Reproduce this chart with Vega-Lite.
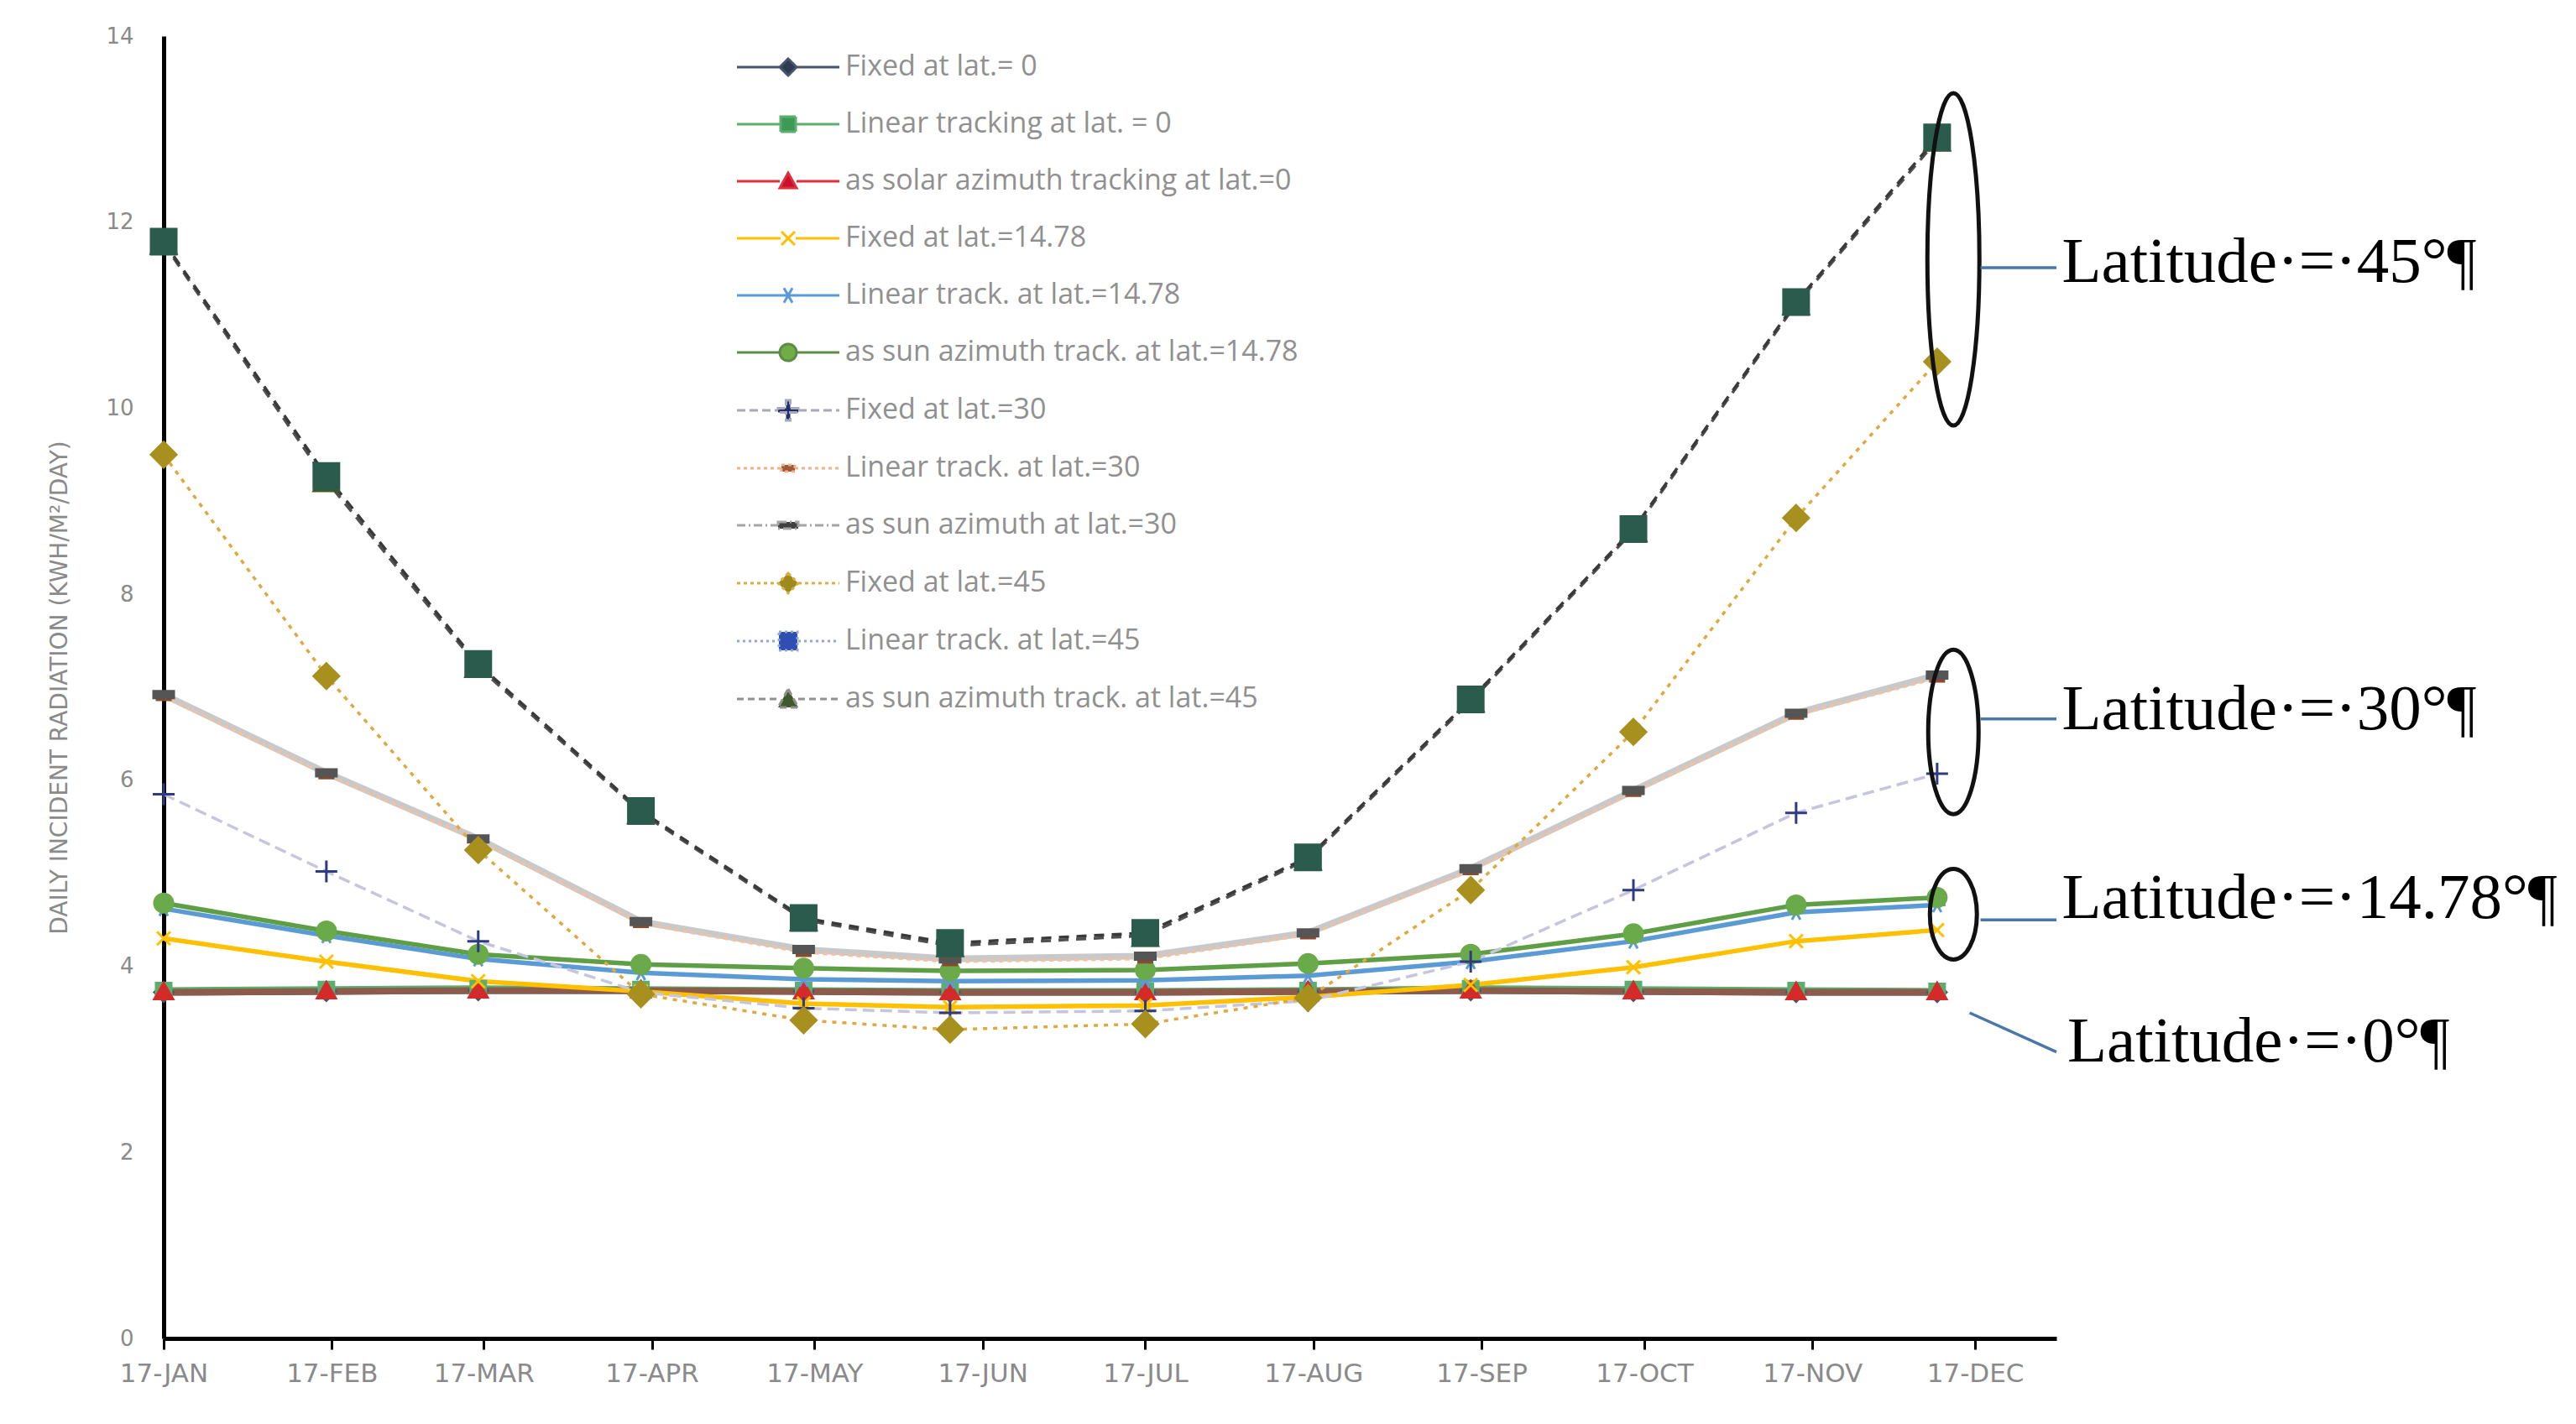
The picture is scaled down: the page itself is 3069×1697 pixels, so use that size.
{
  "$schema": "https://vega.github.io/schema/vega-lite/v6.json",
  "width": 2255,
  "height": 1552,
  "autosize": {"type": "none"},
  "padding": {"left": 195, "top": 43, "right": 619, "bottom": 102},
  "background": "white",
  "datasets": {
    "series": [
      {"series": "Fixed at lat.= 0", "date": "2017-01-17", "value": 3.72},
      {"series": "Fixed at lat.= 0", "date": "2017-02-16", "value": 3.73},
      {"series": "Fixed at lat.= 0", "date": "2017-03-16", "value": 3.74},
      {"series": "Fixed at lat.= 0", "date": "2017-04-15", "value": 3.74},
      {"series": "Fixed at lat.= 0", "date": "2017-05-15", "value": 3.73},
      {"series": "Fixed at lat.= 0", "date": "2017-06-11", "value": 3.72},
      {"series": "Fixed at lat.= 0", "date": "2017-07-17", "value": 3.72},
      {"series": "Fixed at lat.= 0", "date": "2017-08-16", "value": 3.73},
      {"series": "Fixed at lat.= 0", "date": "2017-09-15", "value": 3.74},
      {"series": "Fixed at lat.= 0", "date": "2017-10-15", "value": 3.73},
      {"series": "Fixed at lat.= 0", "date": "2017-11-14", "value": 3.72},
      {"series": "Fixed at lat.= 0", "date": "2017-12-10", "value": 3.72},
      {"series": "Linear tracking at lat. = 0", "date": "2017-01-17", "value": 3.74},
      {"series": "Linear tracking at lat. = 0", "date": "2017-02-16", "value": 3.75},
      {"series": "Linear tracking at lat. = 0", "date": "2017-03-16", "value": 3.76},
      {"series": "Linear tracking at lat. = 0", "date": "2017-04-15", "value": 3.75},
      {"series": "Linear tracking at lat. = 0", "date": "2017-05-15", "value": 3.74},
      {"series": "Linear tracking at lat. = 0", "date": "2017-06-11", "value": 3.73},
      {"series": "Linear tracking at lat. = 0", "date": "2017-07-17", "value": 3.73},
      {"series": "Linear tracking at lat. = 0", "date": "2017-08-16", "value": 3.74},
      {"series": "Linear tracking at lat. = 0", "date": "2017-09-15", "value": 3.76},
      {"series": "Linear tracking at lat. = 0", "date": "2017-10-15", "value": 3.75},
      {"series": "Linear tracking at lat. = 0", "date": "2017-11-14", "value": 3.74},
      {"series": "Linear tracking at lat. = 0", "date": "2017-12-10", "value": 3.73},
      {"series": "as solar azimuth tracking at lat.=0", "date": "2017-01-17", "value": 3.72},
      {"series": "as solar azimuth tracking at lat.=0", "date": "2017-02-16", "value": 3.73},
      {"series": "as solar azimuth tracking at lat.=0", "date": "2017-03-16", "value": 3.74},
      {"series": "as solar azimuth tracking at lat.=0", "date": "2017-04-15", "value": 3.74},
      {"series": "as solar azimuth tracking at lat.=0", "date": "2017-05-15", "value": 3.73},
      {"series": "as solar azimuth tracking at lat.=0", "date": "2017-06-11", "value": 3.72},
      {"series": "as solar azimuth tracking at lat.=0", "date": "2017-07-17", "value": 3.72},
      {"series": "as solar azimuth tracking at lat.=0", "date": "2017-08-16", "value": 3.73},
      {"series": "as solar azimuth tracking at lat.=0", "date": "2017-09-15", "value": 3.74},
      {"series": "as solar azimuth tracking at lat.=0", "date": "2017-10-15", "value": 3.73},
      {"series": "as solar azimuth tracking at lat.=0", "date": "2017-11-14", "value": 3.72},
      {"series": "as solar azimuth tracking at lat.=0", "date": "2017-12-10", "value": 3.72},
      {"series": "Fixed at lat.=14.78", "date": "2017-01-17", "value": 4.30},
      {"series": "Fixed at lat.=14.78", "date": "2017-02-16", "value": 4.05},
      {"series": "Fixed at lat.=14.78", "date": "2017-03-16", "value": 3.84},
      {"series": "Fixed at lat.=14.78", "date": "2017-04-15", "value": 3.73},
      {"series": "Fixed at lat.=14.78", "date": "2017-05-15", "value": 3.60},
      {"series": "Fixed at lat.=14.78", "date": "2017-06-11", "value": 3.56},
      {"series": "Fixed at lat.=14.78", "date": "2017-07-17", "value": 3.58},
      {"series": "Fixed at lat.=14.78", "date": "2017-08-16", "value": 3.67},
      {"series": "Fixed at lat.=14.78", "date": "2017-09-15", "value": 3.80},
      {"series": "Fixed at lat.=14.78", "date": "2017-10-15", "value": 3.99},
      {"series": "Fixed at lat.=14.78", "date": "2017-11-14", "value": 4.27},
      {"series": "Fixed at lat.=14.78", "date": "2017-12-10", "value": 4.39},
      {"series": "Linear track. at lat.=14.78", "date": "2017-01-17", "value": 4.62},
      {"series": "Linear track. at lat.=14.78", "date": "2017-02-16", "value": 4.33},
      {"series": "Linear track. at lat.=14.78", "date": "2017-03-16", "value": 4.08},
      {"series": "Linear track. at lat.=14.78", "date": "2017-04-15", "value": 3.93},
      {"series": "Linear track. at lat.=14.78", "date": "2017-05-15", "value": 3.86},
      {"series": "Linear track. at lat.=14.78", "date": "2017-06-11", "value": 3.84},
      {"series": "Linear track. at lat.=14.78", "date": "2017-07-17", "value": 3.85},
      {"series": "Linear track. at lat.=14.78", "date": "2017-08-16", "value": 3.90},
      {"series": "Linear track. at lat.=14.78", "date": "2017-09-15", "value": 4.05},
      {"series": "Linear track. at lat.=14.78", "date": "2017-10-15", "value": 4.27},
      {"series": "Linear track. at lat.=14.78", "date": "2017-11-14", "value": 4.58},
      {"series": "Linear track. at lat.=14.78", "date": "2017-12-10", "value": 4.66},
      {"series": "as sun azimuth track. at lat.=14.78", "date": "2017-01-17", "value": 4.68},
      {"series": "as sun azimuth track. at lat.=14.78", "date": "2017-02-16", "value": 4.38},
      {"series": "as sun azimuth track. at lat.=14.78", "date": "2017-03-16", "value": 4.13},
      {"series": "as sun azimuth track. at lat.=14.78", "date": "2017-04-15", "value": 4.02},
      {"series": "as sun azimuth track. at lat.=14.78", "date": "2017-05-15", "value": 3.98},
      {"series": "as sun azimuth track. at lat.=14.78", "date": "2017-06-11", "value": 3.95},
      {"series": "as sun azimuth track. at lat.=14.78", "date": "2017-07-17", "value": 3.96},
      {"series": "as sun azimuth track. at lat.=14.78", "date": "2017-08-16", "value": 4.03},
      {"series": "as sun azimuth track. at lat.=14.78", "date": "2017-09-15", "value": 4.13},
      {"series": "as sun azimuth track. at lat.=14.78", "date": "2017-10-15", "value": 4.35},
      {"series": "as sun azimuth track. at lat.=14.78", "date": "2017-11-14", "value": 4.66},
      {"series": "as sun azimuth track. at lat.=14.78", "date": "2017-12-10", "value": 4.74},
      {"series": "Fixed at lat.=30", "date": "2017-01-17", "value": 5.85},
      {"series": "Fixed at lat.=30", "date": "2017-02-16", "value": 5.02},
      {"series": "Fixed at lat.=30", "date": "2017-03-16", "value": 4.27},
      {"series": "Fixed at lat.=30", "date": "2017-04-15", "value": 3.72},
      {"series": "Fixed at lat.=30", "date": "2017-05-15", "value": 3.55},
      {"series": "Fixed at lat.=30", "date": "2017-06-11", "value": 3.50},
      {"series": "Fixed at lat.=30", "date": "2017-07-17", "value": 3.52},
      {"series": "Fixed at lat.=30", "date": "2017-08-16", "value": 3.63},
      {"series": "Fixed at lat.=30", "date": "2017-09-15", "value": 4.05},
      {"series": "Fixed at lat.=30", "date": "2017-10-15", "value": 4.82},
      {"series": "Fixed at lat.=30", "date": "2017-11-14", "value": 5.65},
      {"series": "Fixed at lat.=30", "date": "2017-12-10", "value": 6.07},
      {"series": "Linear track. at lat.=30", "date": "2017-01-17", "value": 6.90},
      {"series": "Linear track. at lat.=30", "date": "2017-02-16", "value": 6.06},
      {"series": "Linear track. at lat.=30", "date": "2017-03-16", "value": 5.35},
      {"series": "Linear track. at lat.=30", "date": "2017-04-15", "value": 4.46},
      {"series": "Linear track. at lat.=30", "date": "2017-05-15", "value": 4.15},
      {"series": "Linear track. at lat.=30", "date": "2017-06-11", "value": 4.05},
      {"series": "Linear track. at lat.=30", "date": "2017-07-17", "value": 4.08},
      {"series": "Linear track. at lat.=30", "date": "2017-08-16", "value": 4.34},
      {"series": "Linear track. at lat.=30", "date": "2017-09-15", "value": 5.03},
      {"series": "Linear track. at lat.=30", "date": "2017-10-15", "value": 5.87},
      {"series": "Linear track. at lat.=30", "date": "2017-11-14", "value": 6.70},
      {"series": "Linear track. at lat.=30", "date": "2017-12-10", "value": 7.10},
      {"series": "as sun azimuth at lat.=30", "date": "2017-01-17", "value": 6.92},
      {"series": "as sun azimuth at lat.=30", "date": "2017-02-16", "value": 6.08},
      {"series": "as sun azimuth at lat.=30", "date": "2017-03-16", "value": 5.37},
      {"series": "as sun azimuth at lat.=30", "date": "2017-04-15", "value": 4.48},
      {"series": "as sun azimuth at lat.=30", "date": "2017-05-15", "value": 4.18},
      {"series": "as sun azimuth at lat.=30", "date": "2017-06-11", "value": 4.08},
      {"series": "as sun azimuth at lat.=30", "date": "2017-07-17", "value": 4.11},
      {"series": "as sun azimuth at lat.=30", "date": "2017-08-16", "value": 4.36},
      {"series": "as sun azimuth at lat.=30", "date": "2017-09-15", "value": 5.05},
      {"series": "as sun azimuth at lat.=30", "date": "2017-10-15", "value": 5.89},
      {"series": "as sun azimuth at lat.=30", "date": "2017-11-14", "value": 6.72},
      {"series": "as sun azimuth at lat.=30", "date": "2017-12-10", "value": 7.13},
      {"series": "Fixed at lat.=45", "date": "2017-01-17", "value": 9.50},
      {"series": "Fixed at lat.=45", "date": "2017-02-16", "value": 7.12},
      {"series": "Fixed at lat.=45", "date": "2017-03-16", "value": 5.25},
      {"series": "Fixed at lat.=45", "date": "2017-04-15", "value": 3.70},
      {"series": "Fixed at lat.=45", "date": "2017-05-15", "value": 3.42},
      {"series": "Fixed at lat.=45", "date": "2017-06-11", "value": 3.32},
      {"series": "Fixed at lat.=45", "date": "2017-07-17", "value": 3.38},
      {"series": "Fixed at lat.=45", "date": "2017-08-16", "value": 3.66},
      {"series": "Fixed at lat.=45", "date": "2017-09-15", "value": 4.82},
      {"series": "Fixed at lat.=45", "date": "2017-10-15", "value": 6.52},
      {"series": "Fixed at lat.=45", "date": "2017-11-14", "value": 8.82},
      {"series": "Fixed at lat.=45", "date": "2017-12-10", "value": 10.50},
      {"series": "as sun azimuth track. at lat.=45", "date": "2017-01-17", "value": 11.77},
      {"series": "as sun azimuth track. at lat.=45", "date": "2017-02-16", "value": 9.22},
      {"series": "as sun azimuth track. at lat.=45", "date": "2017-03-16", "value": 7.22},
      {"series": "as sun azimuth track. at lat.=45", "date": "2017-04-15", "value": 5.65},
      {"series": "as sun azimuth track. at lat.=45", "date": "2017-05-15", "value": 4.50},
      {"series": "as sun azimuth track. at lat.=45", "date": "2017-06-11", "value": 4.22},
      {"series": "as sun azimuth track. at lat.=45", "date": "2017-07-17", "value": 4.33},
      {"series": "as sun azimuth track. at lat.=45", "date": "2017-08-16", "value": 5.15},
      {"series": "as sun azimuth track. at lat.=45", "date": "2017-09-15", "value": 6.85},
      {"series": "as sun azimuth track. at lat.=45", "date": "2017-10-15", "value": 8.68},
      {"series": "as sun azimuth track. at lat.=45", "date": "2017-11-14", "value": 11.12},
      {"series": "as sun azimuth track. at lat.=45", "date": "2017-12-10", "value": 12.88},
      {"series": "Linear track. at lat.=45", "date": "2017-01-17", "value": 11.79},
      {"series": "Linear track. at lat.=45", "date": "2017-02-16", "value": 9.27},
      {"series": "Linear track. at lat.=45", "date": "2017-03-16", "value": 7.25},
      {"series": "Linear track. at lat.=45", "date": "2017-04-15", "value": 5.67},
      {"series": "Linear track. at lat.=45", "date": "2017-05-15", "value": 4.52},
      {"series": "Linear track. at lat.=45", "date": "2017-06-11", "value": 4.25},
      {"series": "Linear track. at lat.=45", "date": "2017-07-17", "value": 4.36},
      {"series": "Linear track. at lat.=45", "date": "2017-08-16", "value": 5.17},
      {"series": "Linear track. at lat.=45", "date": "2017-09-15", "value": 6.87},
      {"series": "Linear track. at lat.=45", "date": "2017-10-15", "value": 8.70},
      {"series": "Linear track. at lat.=45", "date": "2017-11-14", "value": 11.14},
      {"series": "Linear track. at lat.=45", "date": "2017-12-10", "value": 12.91}
    ],
    "ellipses": [
      {"group": "45", "date": "2017-12-13", "value": 11.6},
      {"group": "30", "date": "2017-12-13", "value": 6.52},
      {"group": "14.78", "date": "2017-12-13", "value": 4.56}
    ],
    "connectors": [
      {"date": "2017-12-18", "value": 11.51, "date2": "2018-01-01", "value2": 11.51},
      {"date": "2017-12-18", "value": 6.66, "date2": "2018-01-01", "value2": 6.66},
      {"date": "2017-12-18", "value": 4.5, "date2": "2018-01-01", "value2": 4.5},
      {"date": "2017-12-16", "value": 3.5, "date2": "2018-01-01", "value2": 3.08}
    ],
    "labels": [
      {"label": "Latitude·=·45°¶", "date": "2018-01-02", "value": 11.56},
      {"label": "Latitude·=·30°¶", "date": "2018-01-02", "value": 6.76},
      {"label": "Latitude·=·14.78°¶", "date": "2018-01-02", "value": 4.73},
      {"label": "Latitude·=·0°¶", "date": "2018-01-03", "value": 3.18}
    ]
  },
  "encoding": {
    "x": {
      "field": "date",
      "type": "temporal",
      "scale": {
        "type": "utc",
        "domain": [
          {"year": 2017, "month": 1, "date": 17, "utc": true},
          {"year": 2018, "month": 1, "date": 1, "utc": true}
        ]
      },
      "axis": {
        "title": null,
        "values": [
          {"year": 2017, "month": 1, "date": 17, "utc": true},
          {"year": 2017, "month": 2, "date": 17, "utc": true},
          {"year": 2017, "month": 3, "date": 17, "utc": true},
          {"year": 2017, "month": 4, "date": 17, "utc": true},
          {"year": 2017, "month": 5, "date": 17, "utc": true},
          {"year": 2017, "month": 6, "date": 17, "utc": true},
          {"year": 2017, "month": 7, "date": 17, "utc": true},
          {"year": 2017, "month": 8, "date": 17, "utc": true},
          {"year": 2017, "month": 9, "date": 17, "utc": true},
          {"year": 2017, "month": 10, "date": 17, "utc": true},
          {"year": 2017, "month": 11, "date": 17, "utc": true},
          {"year": 2017, "month": 12, "date": 17, "utc": true}
        ],
        "labelExpr": "upper(utcFormat(datum.value, '%d-%b'))",
        "grid": false,
        "domainColor": "#000000",
        "domainWidth": 5,
        "tickColor": "#000000",
        "tickWidth": 3,
        "tickSize": 13,
        "labelFont": "DejaVu Sans",
        "labelFontSize": 31,
        "labelColor": "#8a8a8a",
        "labelPadding": 14,
        "labelOverlap": false,
        "labelFlush": false,
        "labelBound": false
      }
    },
    "y": {
      "field": "value",
      "type": "quantitative",
      "scale": {"domain": [0, 14], "nice": false},
      "axis": {
        "title": "DAILY INCIDENT RADIATION (KWH/M²/DAY)",
        "values": [0, 2, 4, 6, 8, 10, 12, 14],
        "grid": false,
        "ticks": false,
        "domainColor": "#000000",
        "domainWidth": 5,
        "labelFont": "DejaVu Sans",
        "labelFontSize": 26,
        "labelColor": "#8a8a8a",
        "labelPadding": 36,
        "titleFont": "DejaVu Sans",
        "titleFontSize": 28,
        "titleFontWeight": "normal",
        "titleColor": "#8a8a8a",
        "titlePadding": 40
      }
    }
  },
  "layer": [
    {
      "data": {"name": "series"},
      "transform": [{"filter": {"field": "series", "oneOf": ["Fixed at lat.= 0", "Linear tracking at lat. = 0", "as solar azimuth tracking at lat.=0", "as sun azimuth at lat.=30"]}}],
      "mark": {"type": "line", "strokeWidth": 8},
      "encoding": {
        "color": {
          "field": "series", "type": "nominal", "legend": null,
          "scale": {
            "domain": ["Fixed at lat.= 0", "Linear tracking at lat. = 0", "as solar azimuth tracking at lat.=0", "Fixed at lat.=14.78", "Linear track. at lat.=14.78", "as sun azimuth track. at lat.=14.78", "Fixed at lat.=30", "Linear track. at lat.=30", "as sun azimuth at lat.=30", "Fixed at lat.=45", "Linear track. at lat.=45", "as sun azimuth track. at lat.=45"],
            "range": ["#44546a", "#5bae6e", "#8d5b4c", "#ffc000", "#5b9bd5", "#5e9e44", "#c5c5e0", "#f4c0a0", "#c9c9c9", "#e0a840", "#3a3a3a", "#505050"]
          }
        }
      }
    },
    {
      "data": {"name": "series"},
      "transform": [{"filter": {"field": "series", "oneOf": ["Fixed at lat.=14.78", "Linear track. at lat.=14.78", "as sun azimuth track. at lat.=14.78"]}}],
      "mark": {"type": "line", "strokeWidth": 5.5},
      "encoding": {
        "color": {
          "field": "series", "type": "nominal", "legend": null,
          "scale": {
            "domain": ["Fixed at lat.= 0", "Linear tracking at lat. = 0", "as solar azimuth tracking at lat.=0", "Fixed at lat.=14.78", "Linear track. at lat.=14.78", "as sun azimuth track. at lat.=14.78", "Fixed at lat.=30", "Linear track. at lat.=30", "as sun azimuth at lat.=30", "Fixed at lat.=45", "Linear track. at lat.=45", "as sun azimuth track. at lat.=45"],
            "range": ["#44546a", "#5bae6e", "#8d5b4c", "#ffc000", "#5b9bd5", "#5e9e44", "#c5c5e0", "#f4c0a0", "#c9c9c9", "#e0a840", "#3a3a3a", "#505050"]
          }
        }
      }
    },
    {
      "data": {"name": "series"},
      "transform": [{"filter": {"field": "series", "oneOf": ["Fixed at lat.=30", "Linear track. at lat.=30", "Fixed at lat.=45", "as sun azimuth track. at lat.=45", "Linear track. at lat.=45"]}}],
      "mark": {"type": "line", "strokeWidth": 3.5},
      "encoding": {
        "color": {
          "field": "series", "type": "nominal", "legend": null,
          "scale": {
            "domain": ["Fixed at lat.= 0", "Linear tracking at lat. = 0", "as solar azimuth tracking at lat.=0", "Fixed at lat.=14.78", "Linear track. at lat.=14.78", "as sun azimuth track. at lat.=14.78", "Fixed at lat.=30", "Linear track. at lat.=30", "as sun azimuth at lat.=30", "Fixed at lat.=45", "Linear track. at lat.=45", "as sun azimuth track. at lat.=45"],
            "range": ["#44546a", "#5bae6e", "#8d5b4c", "#ffc000", "#5b9bd5", "#5e9e44", "#c5c5e0", "#f4c0a0", "#c9c9c9", "#e0a840", "#3a3a3a", "#505050"]
          }
        },
        "strokeDash": {
          "field": "series", "type": "nominal", "legend": null,
          "scale": {
            "domain": ["Fixed at lat.= 0", "Linear tracking at lat. = 0", "as solar azimuth tracking at lat.=0", "Fixed at lat.=14.78", "Linear track. at lat.=14.78", "as sun azimuth track. at lat.=14.78", "Fixed at lat.=30", "Linear track. at lat.=30", "as sun azimuth at lat.=30", "Fixed at lat.=45", "Linear track. at lat.=45", "as sun azimuth track. at lat.=45"],
            "range": [[1, 0], [1, 0], [1, 0], [1, 0], [1, 0], [1, 0], [14, 7], [5, 5], [1, 0], [5, 7], [12, 9], [12, 9]]
          }
        }
      }
    },
    {
      "data": {"name": "series"},
      "mark": {"type": "point", "size": 4, "strokeWidth": 3, "opacity": 1},
      "encoding": {
        "shape": {
          "field": "series", "type": "nominal", "legend": null,
          "scale": {
            "domain": ["Fixed at lat.= 0", "Linear tracking at lat. = 0", "as solar azimuth tracking at lat.=0", "Fixed at lat.=14.78", "Linear track. at lat.=14.78", "as sun azimuth track. at lat.=14.78", "Fixed at lat.=30", "Linear track. at lat.=30", "as sun azimuth at lat.=30", "Fixed at lat.=45", "Linear track. at lat.=45", "as sun azimuth track. at lat.=45"],
            "range": [
              "M0,-11L11,0L0,11L-11,0Z",
              "M-9,-9H9V9H-9Z",
              "M0,-11L11,8H-11Z",
              "M-8,-8L8,8M-8,8L8,-8",
              "M-10,0H10M-5,-8.7L5,8.7M-5,8.7L5,-8.7",
              "M-11,0A11,11 0 1,0 11,0A11,11 0 1,0 -11,0Z",
              "M-13,0H13M0,-13V13",
              "M-8,-4H8V4H-8Z",
              "M-12,-4H12V4H-12Z",
              "M0,-15L15,0L0,15L-15,0Z",
              "M-15,-15H15V15H-15Z",
              "M0,-15L15,12H-15Z"
            ]
          }
        },
        "fill": {
          "field": "series", "type": "nominal", "legend": null,
          "scale": {
            "domain": ["Fixed at lat.= 0", "Linear tracking at lat. = 0", "as solar azimuth tracking at lat.=0", "Fixed at lat.=14.78", "Linear track. at lat.=14.78", "as sun azimuth track. at lat.=14.78", "Fixed at lat.=30", "Linear track. at lat.=30", "as sun azimuth at lat.=30", "Fixed at lat.=45", "Linear track. at lat.=45", "as sun azimuth track. at lat.=45"],
            "range": ["#44546a", "#5bae6e", "#d42a2a", "#ffc000", "#5b9bd5", "#6aaa4a", "#2e3b80", "#8b4a2b", "#555555", "#a8901e", "#2b5b4c", "#3e5a2a"]
          }
        },
        "stroke": {
          "field": "series", "type": "nominal", "legend": null,
          "scale": {
            "domain": ["Fixed at lat.= 0", "Linear tracking at lat. = 0", "as solar azimuth tracking at lat.=0", "Fixed at lat.=14.78", "Linear track. at lat.=14.78", "as sun azimuth track. at lat.=14.78", "Fixed at lat.=30", "Linear track. at lat.=30", "as sun azimuth at lat.=30", "Fixed at lat.=45", "Linear track. at lat.=45", "as sun azimuth track. at lat.=45"],
            "range": ["#44546a", "#5bae6e", "#d42a2a", "#ffc000", "#5b9bd5", "#6aaa4a", "#2e3b80", "#8b4a2b", "#555555", "#a8901e", "#2b5b4c", "#3e5a2a"]
          }
        }
      }
    },
    {
      "data": {"name": "series"},
      "mark": {"type": "point", "size": 4, "opacity": 0},
      "encoding": {
        "shape": {
          "field": "series", "type": "nominal",
          "legend": {"orient": "none", "legendX": 665, "legendY": 20, "title": null, "padding": 0, "rowPadding": 34, "symbolSize": 4, "symbolStrokeWidth": 3, "symbolOpacity": 1, "symbolOffset": 62, "labelOffset": 51, "labelFont": "Open Sans", "labelFontSize": 34, "labelColor": "#909090", "labelLimit": 900},
          "scale": {
            "domain": ["Fixed at lat.= 0", "Linear tracking at lat. = 0", "as solar azimuth tracking at lat.=0", "Fixed at lat.=14.78", "Linear track. at lat.=14.78", "as sun azimuth track. at lat.=14.78", "Fixed at lat.=30", "Linear track. at lat.=30", "as sun azimuth at lat.=30", "Fixed at lat.=45", "Linear track. at lat.=45", "as sun azimuth track. at lat.=45"],
            "range": [
              "M-61,0H-10M10,0H61M0,-10L10,0L0,10L-10,0Z",
              "M-61,0H-9M9,0H61M-9,-9H9V9H-9Z",
              "M-61,0H-10M10,0H61M0,-10L10,8H-10Z",
              "M-61,0H-9M9,0H61M-8,-8L8,8M-8,8L8,-8",
              "M-61,0H61M-5,-8.7L5,8.7M-5,8.7L5,-8.7",
              "M-61,0H-10M10,0H61M-10,0A10,10 0 1,0 10,0A10,10 0 1,0 -10,0Z",
              "M-61,0H-12M12,0H61M-2.5,-12H2.5V-2.5H12V2.5H2.5V12H-2.5V2.5H-12V-2.5H-2.5Z",
              "M-61,0H-8M8,0H61M-8,-4H8V4H-8Z",
              "M-61,0H-12M12,0H61M-12,-4H12V4H-12Z",
              "M-61,0H-12M12,0H61M0,-12L12,0L0,12L-12,0Z",
              "M-61,0H-12M12,0H61M-11,-11H11V11H-11Z",
              "M-61,0H-12M12,0H61M0,-12L12,10H-12Z"
            ]
          }
        },
        "fill": {
          "field": "series", "type": "nominal",
          "legend": {"orient": "none", "legendX": 665, "legendY": 20, "title": null, "padding": 0, "rowPadding": 34, "symbolSize": 4, "symbolStrokeWidth": 3, "symbolOpacity": 1, "symbolOffset": 62, "labelOffset": 51, "labelFont": "Open Sans", "labelFontSize": 34, "labelColor": "#909090", "labelLimit": 900},
          "scale": {
            "domain": ["Fixed at lat.= 0", "Linear tracking at lat. = 0", "as solar azimuth tracking at lat.=0", "Fixed at lat.=14.78", "Linear track. at lat.=14.78", "as sun azimuth track. at lat.=14.78", "Fixed at lat.=30", "Linear track. at lat.=30", "as sun azimuth at lat.=30", "Fixed at lat.=45", "Linear track. at lat.=45", "as sun azimuth track. at lat.=45"],
            "range": ["#2f3b52", "#3d9a55", "#c8102e", "#ffc000", "#5b9bd5", "#70ad47", "#1f2f6f", "#9e5a3a", "#404040", "#9c8a1e", "#2f4fb3", "#3e5a2a"]
          }
        },
        "stroke": {
          "field": "series", "type": "nominal",
          "legend": {"orient": "none", "legendX": 665, "legendY": 20, "title": null, "padding": 0, "rowPadding": 34, "symbolSize": 4, "symbolStrokeWidth": 3, "symbolOpacity": 1, "symbolOffset": 62, "labelOffset": 51, "labelFont": "Open Sans", "labelFontSize": 34, "labelColor": "#909090", "labelLimit": 900},
          "scale": {
            "domain": ["Fixed at lat.= 0", "Linear tracking at lat. = 0", "as solar azimuth tracking at lat.=0", "Fixed at lat.=14.78", "Linear track. at lat.=14.78", "as sun azimuth track. at lat.=14.78", "Fixed at lat.=30", "Linear track. at lat.=30", "as sun azimuth at lat.=30", "Fixed at lat.=45", "Linear track. at lat.=45", "as sun azimuth track. at lat.=45"],
            "range": ["#44546a", "#5bae6e", "#e0303a", "#ffc000", "#5b9bd5", "#5e8c46", "#a8a8b8", "#f4b183", "#a5a5a5", "#d9b040", "#8fa8dc", "#909090"]
          }
        },
        "strokeDash": {
          "field": "series", "type": "nominal",
          "legend": {"orient": "none", "legendX": 665, "legendY": 20, "title": null, "padding": 0, "rowPadding": 34, "symbolSize": 4, "symbolStrokeWidth": 3, "symbolOpacity": 1, "symbolOffset": 62, "labelOffset": 51, "labelFont": "Open Sans", "labelFontSize": 34, "labelColor": "#909090", "labelLimit": 900},
          "scale": {
            "domain": ["Fixed at lat.= 0", "Linear tracking at lat. = 0", "as solar azimuth tracking at lat.=0", "Fixed at lat.=14.78", "Linear track. at lat.=14.78", "as sun azimuth track. at lat.=14.78", "Fixed at lat.=30", "Linear track. at lat.=30", "as sun azimuth at lat.=30", "Fixed at lat.=45", "Linear track. at lat.=45", "as sun azimuth track. at lat.=45"],
            "range": [[1, 0], [1, 0], [1, 0], [1, 0], [1, 0], [1, 0], [10, 5], [4, 4], [10, 4, 2, 4], [4, 4], [3, 4], [8, 5]]
          }
        }
      }
    },
    {
      "data": {"name": "ellipses"},
      "mark": {"type": "point", "size": 4, "filled": false, "stroke": "#111111", "strokeWidth": 5, "opacity": 1},
      "encoding": {
        "shape": {
          "field": "group", "type": "nominal", "legend": null,
          "scale": {
            "domain": ["45", "30", "14.78"],
            "range": [
              "M-31,0A31,198 0 1,0 31,0A31,198 0 1,0 -31,0Z",
              "M-30,0A30,98 0 1,0 30,0A30,98 0 1,0 -30,0Z",
              "M-28,0A28,54 0 1,0 28,0A28,54 0 1,0 -28,0Z"
            ]
          }
        }
      }
    },
    {
      "data": {"name": "connectors"},
      "mark": {"type": "rule", "color": "#4a76a8", "strokeWidth": 3.5},
      "encoding": {
        "x2": {"field": "date2"},
        "y2": {"field": "value2"}
      }
    },
    {
      "data": {"name": "labels"},
      "mark": {"type": "text", "font": "Liberation Serif", "fontSize": 77, "align": "left", "baseline": "middle", "color": "#000000"},
      "encoding": {
        "text": {"field": "label"}
      }
    }
  ],
  "resolve": {
    "scale": {"color": "independent", "fill": "independent", "stroke": "independent", "shape": "independent", "strokeDash": "independent"},
    "legend": {"color": "independent", "fill": "independent", "stroke": "independent", "shape": "independent", "strokeDash": "independent"}
  },
  "config": {
    "view": {"stroke": null},
    "axis": {"grid": false}
  }
}
